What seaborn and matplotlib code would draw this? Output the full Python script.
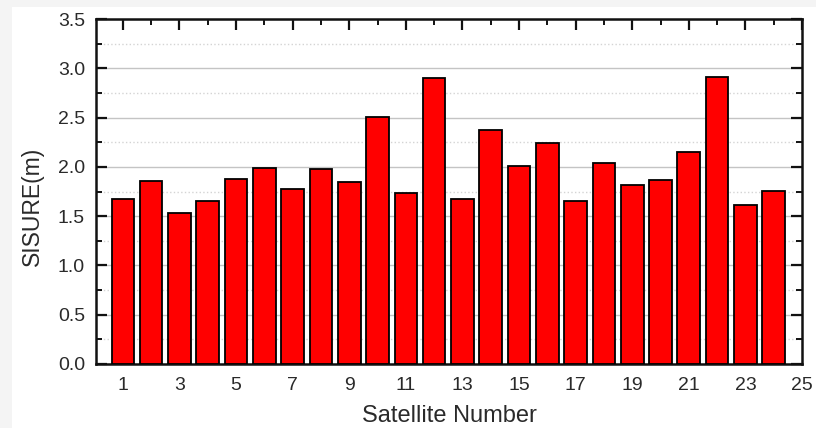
import matplotlib
matplotlib.use("Agg")
import matplotlib.pyplot as plt
import seaborn as sns
import pandas as pd
from matplotlib.ticker import MultipleLocator, FormatStrFormatter
from matplotlib.patches import Rectangle

# Signal-in-space user range error per satellite
satellites = list(range(1, 25))
sisure = [1.67, 1.86, 1.53, 1.65, 1.88, 1.99, 1.78, 1.975, 1.85, 2.51, 1.73, 2.90,
          1.67, 2.37, 2.01, 2.24, 1.65, 2.035, 1.82, 1.87, 2.15, 2.91, 1.61, 1.76]
x_ticks = list(range(1, 26, 2))

df = pd.DataFrame({"sat": satellites, "sisure": sisure})

sns.set_style("white")
plt.rcParams["font.family"] = ["Liberation Sans", "DejaVu Sans"]

fig = plt.figure(figsize=(8.16, 4.28), dpi=100, facecolor="#f4f4f4")
fig.patches.append(Rectangle((12 / 816, 0), 1, 1 - 7 / 428, transform=fig.transFigure,
                             facecolor="white", edgecolor="none", zorder=-5))
ax = fig.add_axes([96 / 816, 64 / 428, 706 / 816, 345 / 428])
ax.set_zorder(2)
ax.set_facecolor("white")

sns.barplot(data=df, x="sat", y="sisure", native_scale=True, width=0.8,
            color="#ff0000", edgecolor="black", linewidth=1.3, saturation=1,
            ax=ax, zorder=3)

ax.set_xlim(0.05, 25)
ax.set_ylim(0, 3.5)
ax.set_xticks(x_ticks)
ax.set_xticklabels([str(t) for t in x_ticks])
ax.xaxis.set_minor_locator(MultipleLocator(1))
ax.yaxis.set_major_locator(MultipleLocator(0.5))
ax.yaxis.set_minor_locator(MultipleLocator(0.25))
ax.yaxis.set_major_formatter(FormatStrFormatter("%.1f"))

ax.grid(which="major", axis="y", color="#c4c4c4", linewidth=1.0, zorder=0)
ax.grid(which="minor", axis="y", color="#d4d4d4", linewidth=1.0, linestyle=":", zorder=0)
ax.set_axisbelow(True)

for s in ax.spines.values():
    s.set_linewidth(1.8)
    s.set_color("#111111")

ax.tick_params(which="both", direction="in", top=True, bottom=False,
               left=True, right=True, color="#111111")
ax.tick_params(which="major", length=8, width=1.6, labelsize=14, pad=8,
               labelcolor="#2a2a2a")
ax.tick_params(axis="x", which="major", pad=9)
ax.tick_params(which="minor", length=4, width=1.4)

ax.set_xlabel("Satellite Number", fontsize=17, color="#2a2a2a", labelpad=8)
ax.set_ylabel("SISURE(m)", fontsize=16.5, color="#2a2a2a", labelpad=10, y=0.456)

fig.savefig("out.png", dpi=100, facecolor=fig.get_facecolor())
